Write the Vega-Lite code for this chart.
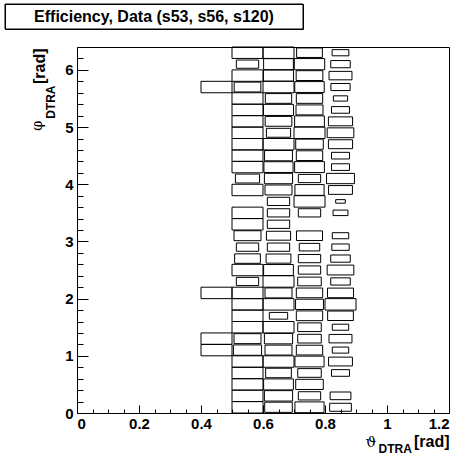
{
  "$schema": "https://vega.github.io/schema/vega-lite/v6.json",
  "padding": {"left": 4, "top": 3, "right": 0, "bottom": 0},
  "spacing": 16,
  "config": {
    "font": "Liberation Sans",
    "view": {"stroke": "black", "strokeWidth": 1},
    "axis": {"grid": false}
  },
  "vconcat": [
    {
      "width": 298,
      "height": 25,
      "data": {"values": [{"label": "Efficiency, Data (s53, s56, s120)", "pos": 0.5}]},
      "layer": [
        {
          "mark": {"type": "rect", "fillOpacity": 0, "stroke": "black", "strokeWidth": 1},
          "encoding": {}
        },
        {
          "mark": {"type": "text", "font": "Liberation Sans", "fontSize": 16, "fontWeight": "bold", "color": "black", "baseline": "middle"},
          "encoding": {
            "x": {"field": "pos", "type": "quantitative", "scale": {"domain": [0, 1]}, "axis": null},
            "y": {"field": "pos", "type": "quantitative", "scale": {"domain": [0, 1]}, "axis": null},
            "text": {"field": "label", "type": "nominal"}
          }
        }
      ]
    },
    {
      "spacing": 0,
      "hconcat": [
        {
          "width": 0,
          "height": 366,
          "view": {"stroke": null},
          "data": {"values": []},
          "mark": "text",
          "encoding": {}
        },
        {
          "width": 372,
          "height": 366,
          "data": {
            "values": [
              {"theta": 0.55, "phi": 6.3, "eff": 1.0}, {"theta": 0.65, "phi": 6.3, "eff": 1.0}, {"theta": 0.75, "phi": 6.3, "eff": 0.83}, {"theta": 0.85, "phi": 6.3, "eff": 0.54},
              {"theta": 0.55, "phi": 6.1, "eff": 0.72}, {"theta": 0.65, "phi": 6.1, "eff": 0.96}, {"theta": 0.75, "phi": 6.1, "eff": 0.98}, {"theta": 0.85, "phi": 6.1, "eff": 0.63},
              {"theta": 0.55, "phi": 5.9, "eff": 1.0}, {"theta": 0.65, "phi": 5.9, "eff": 0.97}, {"theta": 0.75, "phi": 5.9, "eff": 0.86}, {"theta": 0.85, "phi": 5.9, "eff": 0.74},
              {"theta": 0.45, "phi": 5.7, "eff": 1.0}, {"theta": 0.55, "phi": 5.7, "eff": 0.86}, {"theta": 0.65, "phi": 5.7, "eff": 1.0}, {"theta": 0.75, "phi": 5.7, "eff": 0.95}, {"theta": 0.85, "phi": 5.7, "eff": 0.62},
              {"theta": 0.55, "phi": 5.5, "eff": 1.0}, {"theta": 0.65, "phi": 5.5, "eff": 0.85}, {"theta": 0.75, "phi": 5.5, "eff": 0.85}, {"theta": 0.85, "phi": 5.5, "eff": 0.46},
              {"theta": 0.55, "phi": 5.3, "eff": 1.0}, {"theta": 0.65, "phi": 5.3, "eff": 0.97}, {"theta": 0.75, "phi": 5.3, "eff": 0.87}, {"theta": 0.85, "phi": 5.3, "eff": 0.58},
              {"theta": 0.55, "phi": 5.1, "eff": 1.0}, {"theta": 0.65, "phi": 5.1, "eff": 0.86}, {"theta": 0.75, "phi": 5.1, "eff": 0.96}, {"theta": 0.85, "phi": 5.1, "eff": 0.78},
              {"theta": 0.55, "phi": 4.9, "eff": 1.0}, {"theta": 0.65, "phi": 4.9, "eff": 0.78}, {"theta": 0.75, "phi": 4.9, "eff": 1.0}, {"theta": 0.85, "phi": 4.9, "eff": 0.86},
              {"theta": 0.55, "phi": 4.7, "eff": 1.0}, {"theta": 0.65, "phi": 4.7, "eff": 1.0}, {"theta": 0.75, "phi": 4.7, "eff": 0.89}, {"theta": 0.85, "phi": 4.7, "eff": 0.78},
              {"theta": 0.55, "phi": 4.5, "eff": 1.0}, {"theta": 0.65, "phi": 4.5, "eff": 0.9}, {"theta": 0.75, "phi": 4.5, "eff": 0.85}, {"theta": 0.85, "phi": 4.5, "eff": 0.58},
              {"theta": 0.55, "phi": 4.3, "eff": 1.0}, {"theta": 0.65, "phi": 4.3, "eff": 0.94}, {"theta": 0.75, "phi": 4.3, "eff": 0.96}, {"theta": 0.85, "phi": 4.3, "eff": 0.58},
              {"theta": 0.55, "phi": 4.1, "eff": 0.78}, {"theta": 0.65, "phi": 4.1, "eff": 0.91}, {"theta": 0.75, "phi": 4.1, "eff": 0.72}, {"theta": 0.85, "phi": 4.1, "eff": 0.9},
              {"theta": 0.55, "phi": 3.9, "eff": 1.0}, {"theta": 0.65, "phi": 3.9, "eff": 0.87}, {"theta": 0.75, "phi": 3.9, "eff": 0.94}, {"theta": 0.85, "phi": 3.9, "eff": 0.77},
              {"theta": 0.65, "phi": 3.7, "eff": 0.72}, {"theta": 0.75, "phi": 3.7, "eff": 1.0}, {"theta": 0.85, "phi": 3.7, "eff": 0.31},
              {"theta": 0.55, "phi": 3.5, "eff": 1.0}, {"theta": 0.65, "phi": 3.5, "eff": 0.72}, {"theta": 0.75, "phi": 3.5, "eff": 0.72}, {"theta": 0.85, "phi": 3.5, "eff": 0.48},
              {"theta": 0.55, "phi": 3.3, "eff": 1.0}, {"theta": 0.65, "phi": 3.3, "eff": 0.72},
              {"theta": 0.55, "phi": 3.1, "eff": 0.87}, {"theta": 0.65, "phi": 3.1, "eff": 0.78}, {"theta": 0.75, "phi": 3.1, "eff": 0.84}, {"theta": 0.85, "phi": 3.1, "eff": 0.53},
              {"theta": 0.55, "phi": 2.9, "eff": 0.72}, {"theta": 0.65, "phi": 2.9, "eff": 0.72}, {"theta": 0.75, "phi": 2.9, "eff": 0.66}, {"theta": 0.85, "phi": 2.9, "eff": 0.56},
              {"theta": 0.55, "phi": 2.7, "eff": 0.83}, {"theta": 0.65, "phi": 2.7, "eff": 0.8}, {"theta": 0.75, "phi": 2.7, "eff": 0.72}, {"theta": 0.85, "phi": 2.7, "eff": 0.63},
              {"theta": 0.55, "phi": 2.5, "eff": 1.0}, {"theta": 0.65, "phi": 2.5, "eff": 0.96}, {"theta": 0.75, "phi": 2.5, "eff": 0.72}, {"theta": 0.85, "phi": 2.5, "eff": 0.86},
              {"theta": 0.55, "phi": 2.3, "eff": 0.72}, {"theta": 0.65, "phi": 2.3, "eff": 1.0}, {"theta": 0.75, "phi": 2.3, "eff": 0.76}, {"theta": 0.85, "phi": 2.3, "eff": 0.63},
              {"theta": 0.45, "phi": 2.1, "eff": 1.0}, {"theta": 0.55, "phi": 2.1, "eff": 1.0}, {"theta": 0.65, "phi": 2.1, "eff": 0.87}, {"theta": 0.75, "phi": 2.1, "eff": 0.85}, {"theta": 0.85, "phi": 2.1, "eff": 0.84},
              {"theta": 0.55, "phi": 1.9, "eff": 1.0}, {"theta": 0.65, "phi": 1.9, "eff": 1.0}, {"theta": 0.75, "phi": 1.9, "eff": 0.9}, {"theta": 0.85, "phi": 1.9, "eff": 1.0},
              {"theta": 0.55, "phi": 1.7, "eff": 1.0}, {"theta": 0.65, "phi": 1.7, "eff": 0.59}, {"theta": 0.75, "phi": 1.7, "eff": 0.85}, {"theta": 0.85, "phi": 1.7, "eff": 0.83},
              {"theta": 0.55, "phi": 1.5, "eff": 1.0}, {"theta": 0.65, "phi": 1.5, "eff": 1.0}, {"theta": 0.75, "phi": 1.5, "eff": 0.76}, {"theta": 0.85, "phi": 1.5, "eff": 0.53},
              {"theta": 0.45, "phi": 1.3, "eff": 1.0}, {"theta": 0.55, "phi": 1.3, "eff": 0.87}, {"theta": 0.65, "phi": 1.3, "eff": 0.91}, {"theta": 0.75, "phi": 1.3, "eff": 0.76}, {"theta": 0.85, "phi": 1.3, "eff": 0.74},
              {"theta": 0.45, "phi": 1.1, "eff": 1.0}, {"theta": 0.55, "phi": 1.1, "eff": 0.91}, {"theta": 0.65, "phi": 1.1, "eff": 0.87}, {"theta": 0.75, "phi": 1.1, "eff": 0.85}, {"theta": 0.85, "phi": 1.1, "eff": 0.53},
              {"theta": 0.55, "phi": 0.9, "eff": 1.0}, {"theta": 0.65, "phi": 0.9, "eff": 1.0}, {"theta": 0.75, "phi": 0.9, "eff": 0.94}, {"theta": 0.85, "phi": 0.9, "eff": 0.77},
              {"theta": 0.55, "phi": 0.7, "eff": 1.0}, {"theta": 0.65, "phi": 0.7, "eff": 0.83}, {"theta": 0.75, "phi": 0.7, "eff": 0.76}, {"theta": 0.85, "phi": 0.7, "eff": 0.58},
              {"theta": 0.55, "phi": 0.5, "eff": 1.0}, {"theta": 0.65, "phi": 0.5, "eff": 0.96}, {"theta": 0.75, "phi": 0.5, "eff": 0.89},
              {"theta": 0.55, "phi": 0.3, "eff": 1.0}, {"theta": 0.65, "phi": 0.3, "eff": 0.91}, {"theta": 0.75, "phi": 0.3, "eff": 0.72}, {"theta": 0.85, "phi": 0.3, "eff": 0.67},
              {"theta": 0.55, "phi": 0.1, "eff": 1.0}, {"theta": 0.65, "phi": 0.1, "eff": 0.89}, {"theta": 0.75, "phi": 0.1, "eff": 0.94}, {"theta": 0.85, "phi": 0.1, "eff": 0.7}
            ]
          },
          "transform": [
            {"calculate": "datum.theta - 0.05 * datum.eff", "as": "x0"},
            {"calculate": "datum.theta + 0.05 * datum.eff", "as": "x1"},
            {"calculate": "datum.phi - 0.1 * datum.eff", "as": "y0"},
            {"calculate": "datum.phi + 0.1 * datum.eff", "as": "y1"}
          ],
          "resolve": {"axis": {"x": "independent", "y": "independent"}},
          "layer": [
            {
              "transform": [{"filter": "datum.theta > 0.5 && datum.theta < 0.8"}],
              "mark": {"type": "rect", "fillOpacity": 0, "stroke": "black", "strokeWidth": 1},
              "encoding": {
                "x": {
                  "field": "x0", "type": "quantitative",
                  "scale": {"domain": [0, 1.2], "nice": false, "zero": false},
                  "axis": {
                    "orient": "bottom", "values": [0, 0.2, 0.4, 0.6, 0.8, 1, 1.2], "format": "~g",
                    "ticks": false, "domain": false, "labelPadding": 3,
                    "labelFont": "Liberation Sans", "labelFontSize": 15, "labelFontWeight": "bold", "labelColor": "black",
                    "title": "[rad]", "titleX": 372, "titleY": 33, "titleAlign": "right", "titleBaseline": "alphabetic",
                    "titleFont": "Liberation Sans", "titleFontSize": 16, "titleFontWeight": "bold", "titleColor": "black"
                  }
                },
                "x2": {"field": "x1"},
                "y": {
                  "field": "y0", "type": "quantitative",
                  "scale": {"domain": [0, 6.4], "nice": false, "zero": false},
                  "axis": {
                    "orient": "left", "values": [0, 1, 2, 3, 4, 5, 6], "format": "d",
                    "ticks": false, "domain": false, "labelPadding": 4,
                    "labelFont": "Liberation Sans", "labelFontSize": 15, "labelFontWeight": "bold", "labelColor": "black",
                    "title": "[rad]", "titleAngle": 270, "titleX": -33, "titleY": 1, "titleAlign": "right", "titleBaseline": "alphabetic",
                    "titleFont": "Liberation Sans", "titleFontSize": 16, "titleFontWeight": "bold", "titleColor": "black"
                  }
                },
                "y2": {"field": "y1"}
              }
            },
            {
              "transform": [{"filter": "datum.theta > 0.8"}],
              "mark": {"type": "rect", "fillOpacity": 0, "stroke": "black", "strokeWidth": 1},
              "encoding": {
                "x": {
                  "field": "x0", "type": "quantitative",
                  "axis": {
                    "orient": "bottom",
                    "values": [0, 0.05, 0.1, 0.15, 0.2, 0.25, 0.3, 0.35, 0.4, 0.45, 0.5, 0.55, 0.6, 0.65, 0.7, 0.75, 0.8, 0.85, 0.9, 0.95, 1, 1.05, 1.1, 1.15, 1.2],
                    "labels": false, "domain": false, "tickColor": "black", "tickWidth": 1,
                    "tickSize": {"condition": {"test": "abs(datum.value * 5 - round(datum.value * 5)) < 0.001", "value": -8}, "value": -4},
                    "title": "DTRA", "titleX": 301, "titleY": 39, "titleAlign": "left", "titleBaseline": "alphabetic",
                    "titleFont": "Liberation Sans", "titleFontSize": 12, "titleFontWeight": "bold", "titleColor": "black"
                  }
                },
                "x2": {"field": "x1"},
                "y": {
                  "field": "y0", "type": "quantitative",
                  "axis": {
                    "orient": "left",
                    "values": [0, 0.2, 0.4, 0.6, 0.8, 1, 1.2, 1.4, 1.6, 1.8, 2, 2.2, 2.4, 2.6, 2.8, 3, 3.2, 3.4, 3.6, 3.8, 4, 4.2, 4.4, 4.6, 4.8, 5, 5.2, 5.4, 5.6, 5.8, 6, 6.2, 6.4],
                    "labels": false, "domain": false, "tickColor": "black", "tickWidth": 1,
                    "tickSize": {"condition": {"test": "abs(datum.value - round(datum.value)) < 0.001", "value": -11}, "value": -6},
                    "title": "DTRA", "titleAngle": 270, "titleX": -23, "titleY": 38, "titleAlign": "right", "titleBaseline": "alphabetic",
                    "titleFont": "Liberation Sans", "titleFontSize": 12, "titleFontWeight": "bold", "titleColor": "black"
                  }
                },
                "y2": {"field": "y1"}
              }
            },
            {
              "transform": [{"filter": "datum.theta < 0.5"}],
              "mark": {"type": "rect", "fillOpacity": 0, "stroke": "black", "strokeWidth": 1},
              "encoding": {
                "x": {
                  "field": "x0", "type": "quantitative",
                  "axis": {
                    "orient": "bottom", "labels": false, "ticks": false, "domain": false,
                    "title": "ϑ", "titleX": 288, "titleY": 33, "titleAlign": "left", "titleBaseline": "alphabetic",
                    "titleFont": "DejaVu Serif", "titleFontSize": 15, "titleFontWeight": "normal", "titleColor": "black"
                  }
                },
                "x2": {"field": "x1"},
                "y": {
                  "field": "y0", "type": "quantitative",
                  "axis": {
                    "orient": "left", "offset": 51, "labels": false, "ticks": false,
                    "domain": true, "domainOpacity": 0,
                    "title": "φ", "titleAngle": 270, "titleX": 15, "titleY": 73, "titleAlign": "right", "titleBaseline": "alphabetic",
                    "titleFont": "DejaVu Serif", "titleFontSize": 15, "titleFontWeight": "normal", "titleColor": "black"
                  }
                },
                "y2": {"field": "y1"}
              }
            }
          ]
        }
      ]
    }
  ]
}
